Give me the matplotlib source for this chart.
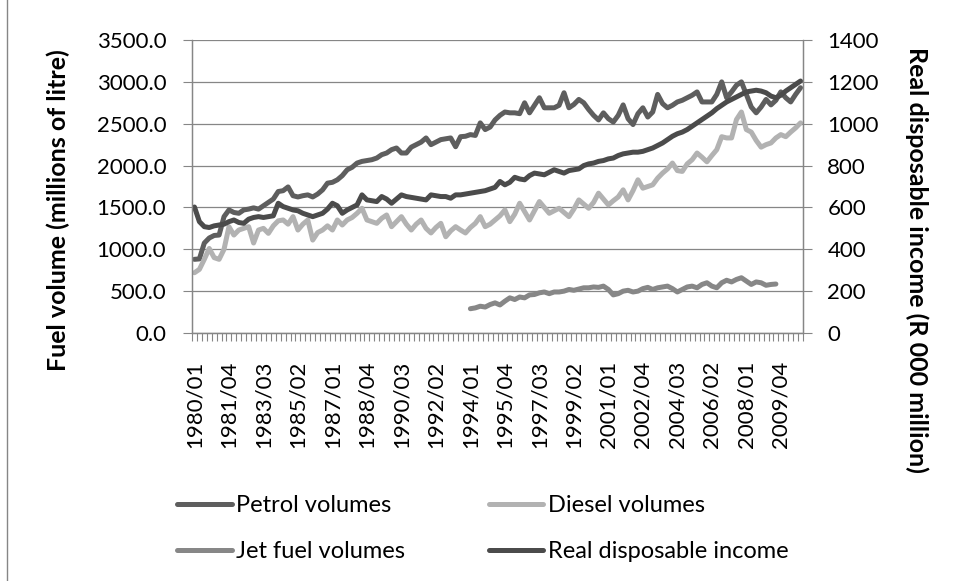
import numpy as np
import matplotlib.pyplot as plt
from matplotlib.patches import Rectangle

plt.rcParams['font.family'] = ['Lato', 'DejaVu Sans']

# quarterly categories 1980/01 .. 2010/04
quarters = [f'{y}/{q:02d}' for y in range(1980, 2011) for q in range(1, 5)]

# fuel volumes, millions of litre
petrol = [880, 885, 1075, 1135, 1165, 1170, 1390, 1470, 1440, 1430,
          1470, 1480, 1495, 1480, 1520, 1560, 1600, 1690, 1700, 1745,
          1640, 1625, 1640, 1650, 1625, 1660, 1710, 1790, 1800, 1830,
          1880, 1950, 1980, 2030, 2050, 2060, 2070, 2090, 2130, 2150,
          2190, 2210, 2150, 2150, 2220, 2250, 2280, 2330, 2250, 2280,
          2310, 2320, 2330, 2225, 2345, 2350, 2370, 2360, 2510, 2430,
          2460, 2545, 2600, 2640, 2630, 2630, 2620, 2750, 2630, 2720,
          2810, 2690, 2690, 2690, 2720, 2870, 2690, 2730, 2790, 2750,
          2670, 2600, 2545, 2630, 2560, 2520, 2600, 2725, 2560, 2490,
          2620, 2690, 2580, 2640, 2850, 2740, 2690, 2720, 2760, 2780,
          2810, 2840, 2880, 2760, 2760, 2760, 2850, 3000, 2810, 2880,
          2960, 3000, 2850, 2700, 2630, 2700, 2790, 2725, 2780, 2880,
          2810, 2760, 2850, 2930]

diesel = [720, 760, 880, 1010, 900, 880, 1000, 1270, 1170, 1230,
          1250, 1270, 1075, 1230, 1250, 1190, 1280, 1340, 1350, 1300,
          1390, 1230, 1300, 1350, 1110, 1200, 1230, 1280, 1230, 1350,
          1290, 1350, 1380, 1430, 1490, 1350, 1330, 1310, 1370, 1410,
          1270, 1330, 1390, 1300, 1230, 1300, 1350, 1250, 1195, 1260,
          1310, 1150, 1220, 1270, 1230, 1195, 1260, 1310, 1390, 1270,
          1300, 1350, 1400, 1470, 1330, 1420, 1550, 1450, 1350, 1460,
          1570, 1500, 1430, 1460, 1490, 1440, 1390, 1480, 1590, 1540,
          1490, 1560, 1670, 1600, 1530, 1580, 1625, 1710, 1590, 1700,
          1830, 1730, 1750, 1770, 1850, 1910, 1960, 2030, 1940, 1930,
          2020, 2070, 2150, 2100, 2045, 2120, 2190, 2345, 2330, 2330,
          2550, 2640, 2430, 2400, 2300, 2220, 2250, 2270, 2330, 2370,
          2345, 2400, 2450, 2510]

jet_start = '1994/01'
jet = [290, 300, 320, 310, 340, 360, 335, 380, 420, 400,
       430, 420, 455, 460, 480, 490, 470, 490, 490, 500,
       520, 510, 525, 540, 540, 550, 545, 560, 520, 455,
       470, 500, 510, 490, 500, 530, 545, 520, 540, 550,
       560, 530, 490, 520, 550, 560, 540, 580, 600, 560,
       540, 600, 630, 610, 640, 660, 620, 580, 610, 600,
       570, 580, 585]

# real disposable income, R 000 million (right axis)
income = [602, 532, 508, 504, 512, 516, 520, 532, 540, 528,
          524, 544, 552, 556, 552, 556, 560, 620, 604, 596,
          588, 584, 572, 564, 556, 564, 572, 592, 620, 608,
          572, 588, 600, 612, 660, 636, 632, 628, 652, 640,
          620, 640, 660, 652, 648, 644, 640, 636, 660, 656,
          652, 652, 644, 660, 660, 664, 668, 672, 676, 680,
          688, 696, 724, 708, 720, 744, 736, 732, 752, 764,
          760, 756, 768, 780, 772, 764, 776, 780, 784, 800,
          808, 812, 820, 824, 832, 836, 848, 856, 860, 864,
          864, 868, 876, 884, 896, 908, 924, 940, 952, 960,
          972, 988, 1004, 1020, 1036, 1052, 1072, 1088, 1104, 1116,
          1128, 1140, 1152, 1156, 1160, 1156, 1148, 1132, 1124, 1136,
          1156, 1172, 1188, 1204]

label_step = 7
grey = '#868686'

x = np.arange(len(quarters))
j0 = quarters.index(jet_start)
jet_full = np.full(len(quarters), np.nan)
jet_full[j0:j0 + len(jet)] = jet

fig = plt.figure(figsize=(9.59, 5.81), dpi=100)
fig.patches.append(Rectangle((7 / 959, -0.1), 1.2, 1.1 + (571 / 581), transform=fig.transFigure,
                             fill=False, edgecolor=grey, linewidth=1))

ax = fig.add_axes([192 / 959, 1 - 333 / 581, (803 - 192) / 959, (333 - 40) / 581])
ax2 = ax.twinx()

lw = 3.6
kw = dict(linewidth=lw, solid_capstyle='round', solid_joinstyle='round')
l1, = ax.plot(x, petrol, color='#5e5e5e', label='Petrol volumes', **kw)
l2, = ax.plot(x, diesel, color='#b2b2b2', label='Diesel volumes', **kw)
l3, = ax.plot(x, jet_full, color='#878787', label='Jet fuel volumes', **kw)
l4, = ax2.plot(x, income, color='#4b4b4b', label='Real disposable income', **kw)

ax.set_xlim(-0.5, len(quarters) - 0.5)
ax.set_ylim(0, 3500)
ax2.set_ylim(0, 1400)

yt = np.arange(0, 3501, 500)
ax.set_yticks(yt)
ax.set_yticklabels([f'{v:.1f}' for v in yt])
yt2 = np.arange(0, 1401, 200)
ax2.set_yticks(yt2)
ax2.set_yticklabels([str(v) for v in yt2])

ax.set_xticks(x[::label_step])
ax.set_xticklabels(quarters[::label_step], rotation=90)
ax.set_xticks(np.arange(-0.5, len(quarters)), minor=True)
ax.tick_params(axis='x', which='major', length=0, pad=20, labelsize=16)
ax.tick_params(axis='x', which='minor', length=6, color=grey, width=0.8)
ax.tick_params(axis='y', length=6.5, color=grey, width=0.8, pad=12, labelsize=16)
ax2.tick_params(axis='y', length=6.5, color=grey, width=0.8, pad=11, labelsize=16)

ax.grid(axis='y', color=grey, linewidth=0.9)
ax.set_axisbelow(True)
for a in (ax, ax2):
    a.spines['top'].set_visible(False)
    for s in ('left', 'right', 'bottom'):
        a.spines[s].set_color(grey)
        a.spines[s].set_linewidth(0.9)

fig.text(58 / 959, 1 - 210 / 581, 'Fuel volume (millions of litre)', rotation=90,
         ha='center', va='center', fontsize=18, fontweight='bold')
fig.text(917 / 959, 1 - 260 / 581, 'Real disposable income (R 000 million)', rotation=270,
         ha='center', va='center', fontsize=18, fontweight='bold')

# legend fills column-wise, so order gives rows: Petrol/Diesel, Jet/Income
fig.legend(handles=[l1, l3, l2, l4], ncol=2, loc='upper left',
           bbox_to_anchor=(156 / 959, 1 - 474 / 581), frameon=False, fontsize=17,
           handlelength=2.3, handletextpad=0.2, columnspacing=3.55, labelspacing=1.05)

fig.savefig('out.png', dpi=100)
